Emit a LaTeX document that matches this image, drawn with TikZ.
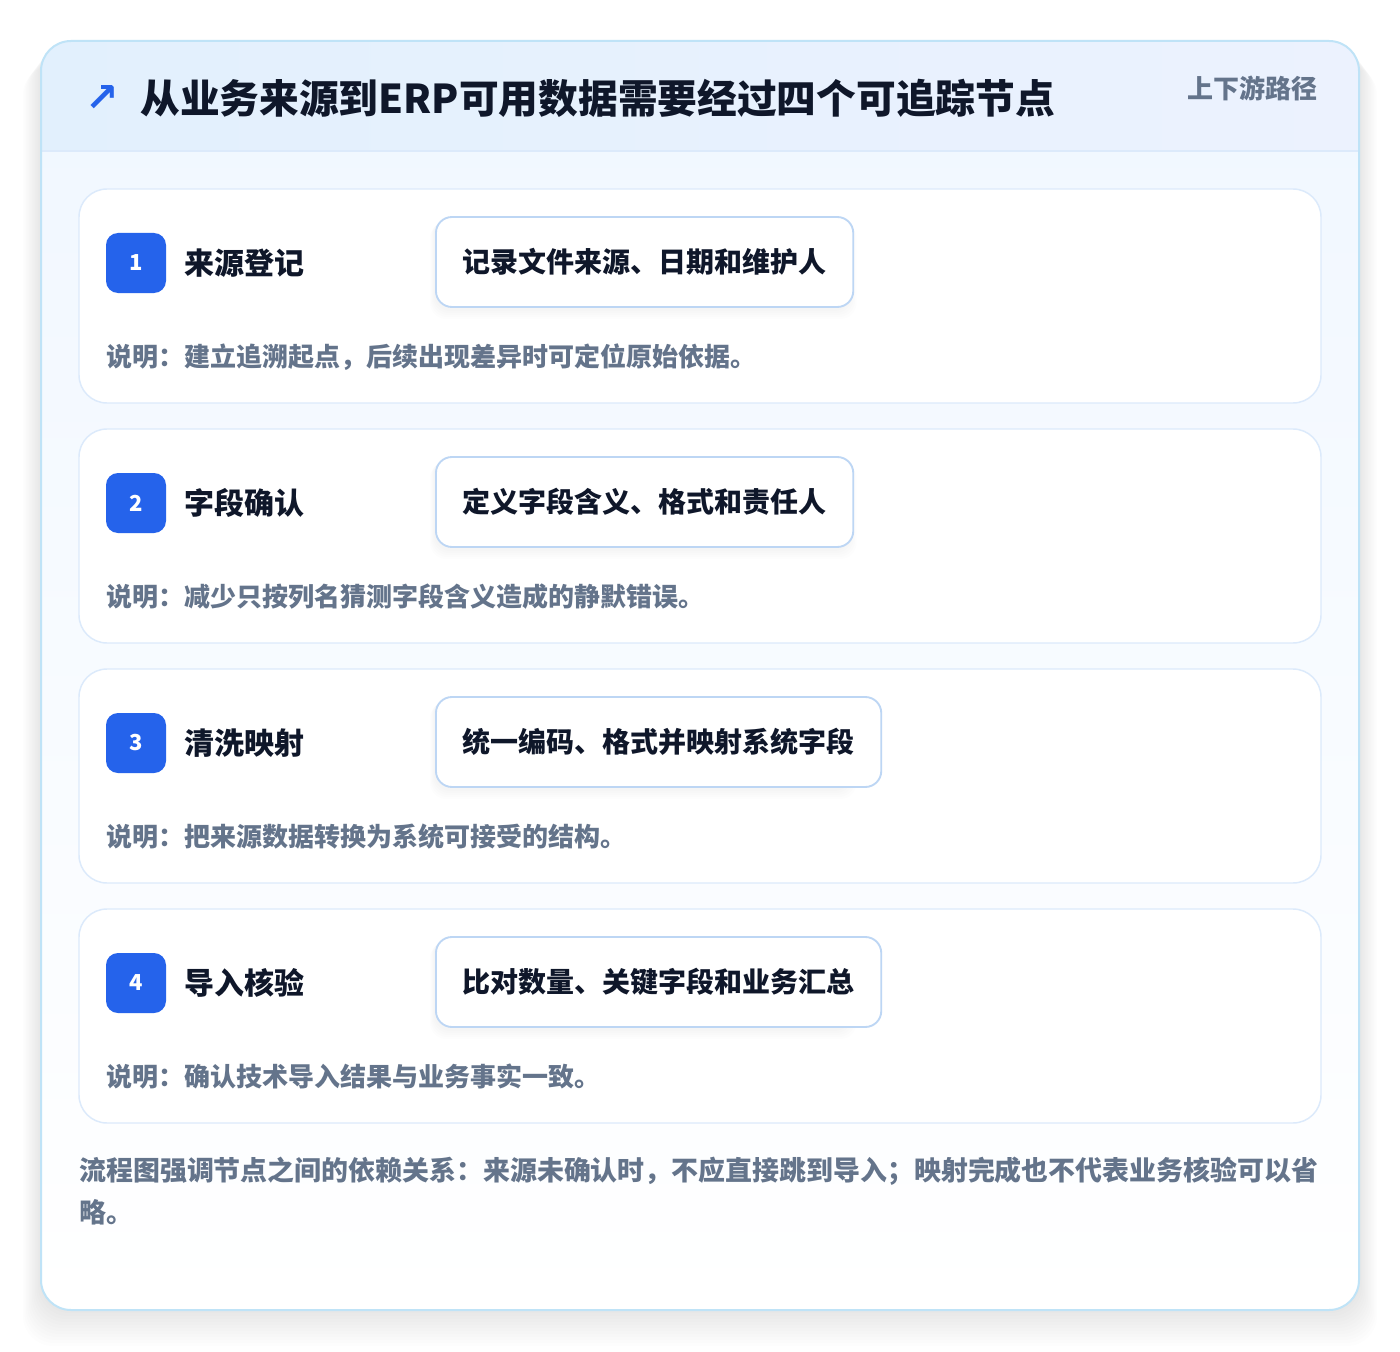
\documentclass[tikz,border=0pt]{standalone}
\usepackage{fontspec}
\setmainfont{Noto Sans CJK SC}
\newfontfamily\symfont{DejaVu Sans}
\usetikzlibrary{positioning}
\definecolor{randblau}{HTML}{BFE3F7}
\definecolor{kopflinks}{HTML}{E2F0FD}
\definecolor{kopfrechts}{HTML}{ECF2FE}
\definecolor{koerperoben}{HTML}{F0F7FF}
\definecolor{kartenrand}{HTML}{DCEAFB}
\definecolor{pillrand}{HTML}{BDD6F4}
\definecolor{badgeblau}{HTML}{2563EB}
\definecolor{textdunkel}{HTML}{0F172A}
\definecolor{textgrau}{HTML}{64748B}
\tikzset{
	karte/.style={draw=kartenrand, line width=1.1pt, fill=white, rounded corners=21pt},
	badge/.style={fill=badgeblau, text=white, rounded corners=9pt, minimum size=45pt, inner sep=0pt,
		font=\bfseries\fontsize{16.5}{18}\selectfont},
	schritt/.style={inner sep=0pt, text=textdunkel, font=\bfseries\fontsize{22.5}{26}\selectfont},
	pill/.style={draw=pillrand, line width=1.4pt, fill=white, rounded corners=12pt, inner xsep=20pt,
		minimum height=67.5pt, text=textdunkel, font=\bfseries\fontsize{21}{24}\selectfont},
	info/.style={inner sep=0pt, text=textgrau, font=\bfseries\fontsize{19.5}{22}\selectfont}
}
\begin{document}
\begin{tikzpicture}[x=0.75pt, y=-0.75pt]
	\useasboundingbox (0,0) rectangle (1400,1352);
	\fill[white] (0,0) rectangle (1400,1352);
	%%Schatten
	\foreach \i in {1,...,12}
		\fill[black, opacity=0.006, rounded corners=22.5pt] (41-1.5*\i,41+2*\i) rectangle (1359+1.5*\i,1310+3*\i);
	%%Rahmen
	\fill[top color=koerperoben, bottom color=white, rounded corners=22.5pt] (41,41) rectangle (1359,1310);
	\begin{scope}
		\clip[rounded corners=22.5pt] (41,41) rectangle (1359,1310);
		\fill[left color=kopflinks, right color=kopfrechts] (41,41) rectangle (1359,151);
		\draw[kartenrand, line width=1.1pt] (41,151) -- (1359,151);
	\end{scope}
	\draw[randblau, line width=1.5pt, rounded corners=22.5pt] (41,41) rectangle (1359,1310);
	%%Kopfzeile
	\node[text=badgeblau, inner sep=0pt, font=\symfont\bfseries\fontsize{30}{32}\selectfont] (pfeil) at (102,99) {↗};
	\node[anchor=west, inner sep=0pt, text=textdunkel, font=\bfseries\fontsize{29.8}{34}\selectfont] (titel) at (140,98)
		{从业务来源到ERP可用数据需要经过四个可追踪节点};
	\node[anchor=east, inner sep=0pt, text=textgrau, font=\bfseries\fontsize{19.5}{22}\selectfont] (tag) at (1318,88)
		{上下游路径};
	%%Karten
	\foreach \n/\y/\titel/\inhalt/\info in {
		1/189/来源登记/记录文件来源、日期和维护人/说明：建立追溯起点，后续出现差异时可定位原始依据。,
		2/429/字段确认/定义字段含义、格式和责任人/说明：减少只按列名猜测字段含义造成的静默错误。,
		3/669/清洗映射/统一编码、格式并映射系统字段/说明：把来源数据转换为系统可接受的结构。,
		4/909/导入核验/比对数量、关键字段和业务汇总/说明：确认技术导入结果与业务事实一致。}
	{
		\draw[karte] (79,\y) rectangle (1321,\y+214);
		\node[badge] (b\n) at (136,\y+74) {\n};
		\node[schritt, right=13.5pt of b\n] (s\n) {\titel};
		\foreach \k in {1,...,5}
			\fill[black, opacity=0.008, rounded corners=12pt] (435-\k,\y+28+\k) rectangle (849+1.5*\k,\y+120+2*\k);
		\node[pill, anchor=west] (p\n) at (435,\y+73) {\inhalt};
		\node[info, anchor=west] (i\n) at (106,\y+168) {\info};
	}
	%%Fussnote
	\node[anchor=north west, inner sep=0pt, align=left, text=textgrau, font=\bfseries\fontsize{20.2}{31.5}\selectfont] (fuss) at (79,1157)
		{流程图强调节点之间的依赖关系：来源未确认时，不应直接跳到导入；映射完成也不代表业务核验可以省\\略。};
\end{tikzpicture}
\end{document}
